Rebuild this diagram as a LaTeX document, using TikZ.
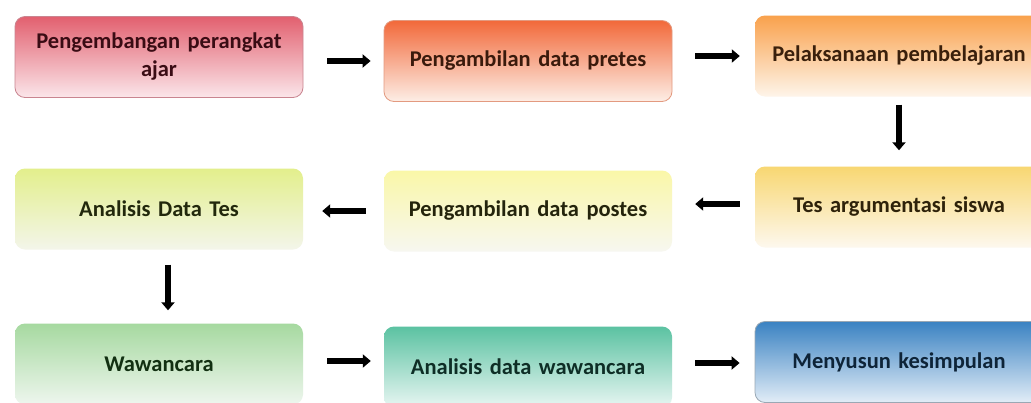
\documentclass[tikz,border=0pt]{standalone}
\usepackage{fontspec}
\setmainfont{Carlito}
\usetikzlibrary{arrows.meta,calc}
\definecolor{t1}{HTML}{E2606F}\definecolor{b1}{HTML}{FBE6EA}\definecolor{d1}{HTML}{C98590}\definecolor{x1}{HTML}{3A0C14}
\definecolor{t2}{HTML}{F2693A}\definecolor{b2}{HTML}{FDEEE6}\definecolor{d2}{HTML}{E39A80}\definecolor{x2}{HTML}{3A1A0C}
\definecolor{t3}{HTML}{F9A14C}\definecolor{b3}{HTML}{FEF5EA}\definecolor{x3}{HTML}{3A200C}
\definecolor{t4}{HTML}{E3EF8C}\definecolor{b4}{HTML}{F3F5EA}\definecolor{x4}{HTML}{22280C}
\definecolor{t5}{HTML}{FAF7A8}\definecolor{b5}{HTML}{F7F7F0}\definecolor{x5}{HTML}{24240C}
\definecolor{t6}{HTML}{F8D772}\definecolor{b6}{HTML}{FDF8EE}\definecolor{x6}{HTML}{2E220A}
\definecolor{t7}{HTML}{A6D9A0}\definecolor{b7}{HTML}{EEF6EE}\definecolor{x7}{HTML}{123012}
\definecolor{t8}{HTML}{5BC2A2}\definecolor{b8}{HTML}{E8F6F2}\definecolor{x8}{HTML}{0E2E26}
\definecolor{t9}{HTML}{3A82C2}\definecolor{b9}{HTML}{E2EDF7}\definecolor{d9}{HTML}{9AA8B4}\definecolor{x9}{HTML}{0E2438}
\tikzset{
  box/.style={rounded corners=10pt, minimum width=288pt, minimum height=81pt,
    inner sep=0pt, align=center, text width=280pt,
    font=\fontsize{22.5}{28}\selectfont\bfseries, shading=axis, shading angle=0},
  arr/.style={line width=6pt, -{Triangle[length=8pt,width=13pt]}, black},
}
\begin{document}
\begin{tikzpicture}[x=1pt,y=-1pt]
\clip (0,0) rectangle (1031,402);
\fill[white] (0,0) rectangle (1031,402);
\node[box, top color=t1, bottom color=b1, draw=d1, line width=0.8pt, text=x1] (n1) at (159,57) {Pengembangan perangkat\\ajar};
\node[box, top color=t2, bottom color=b2, draw=d2, line width=0.8pt, text=x2] (n2) at (528,61) {Pengambilan data pretes};
\node[box, top color=t3, bottom color=b3, text=x3] (n3) at (899,56) {Pelaksanaan pembelajaran};
\node[box, top color=t4, bottom color=b4, text=x4] (n4) at (159,209) {Analisis Data Tes};
\node[box, top color=t5, bottom color=b5, text=x5] (n5) at (528,211) {Pengambilan data postes};
\node[box, top color=t6, bottom color=b6, text=x6] (n6) at (899,207) {Tes argumentasi siswa};
\node[box, top color=t7, bottom color=b7, text=x7] (n7) at (159,364) {Wawancara};
\node[box, top color=t8, bottom color=b8, text=x8] (n8) at (528,367) {Analisis data wawancara};
\node[box, top color=t9, bottom color=b9, draw=d9, line width=0.8pt, text=x9] (n9) at (899,362) {Menyusun kesimpulan};
% row 1
\draw[arr, shorten <=24pt, shorten >=13pt] (n1.east |- n2.west) -- (n2.west);
\draw[arr, shorten <=23pt, shorten >=15pt] (n2.east |- n3.west) -- (n3.west);
\draw[arr, shorten <=8pt, shorten >=16pt] (n3.south) -- (n6.north);
% row 2
\draw[arr, shorten <=15pt, shorten >=23pt] ([yshift=3pt]n6.west) -- ([yshift=3pt]n6.west -| n5.east);
\draw[arr, shorten <=18pt, shorten >=19pt] (n5.west) -- (n5.west -| n4.east);
\draw[arr, shorten <=15pt, shorten >=13pt] ([xshift=9pt]n4.south) -- ([xshift=9pt]n4.south |- n7.north);
% row 3
\draw[arr, shorten <=24pt, shorten >=13pt] ([yshift=3pt]n7.east) -- ([yshift=3pt]n7.east -| n8.west);
\draw[arr, shorten <=23pt, shorten >=15pt] ([yshift=4pt]n8.east) -- ([yshift=4pt]n8.east -| n9.west);
\end{tikzpicture}
\end{document}
